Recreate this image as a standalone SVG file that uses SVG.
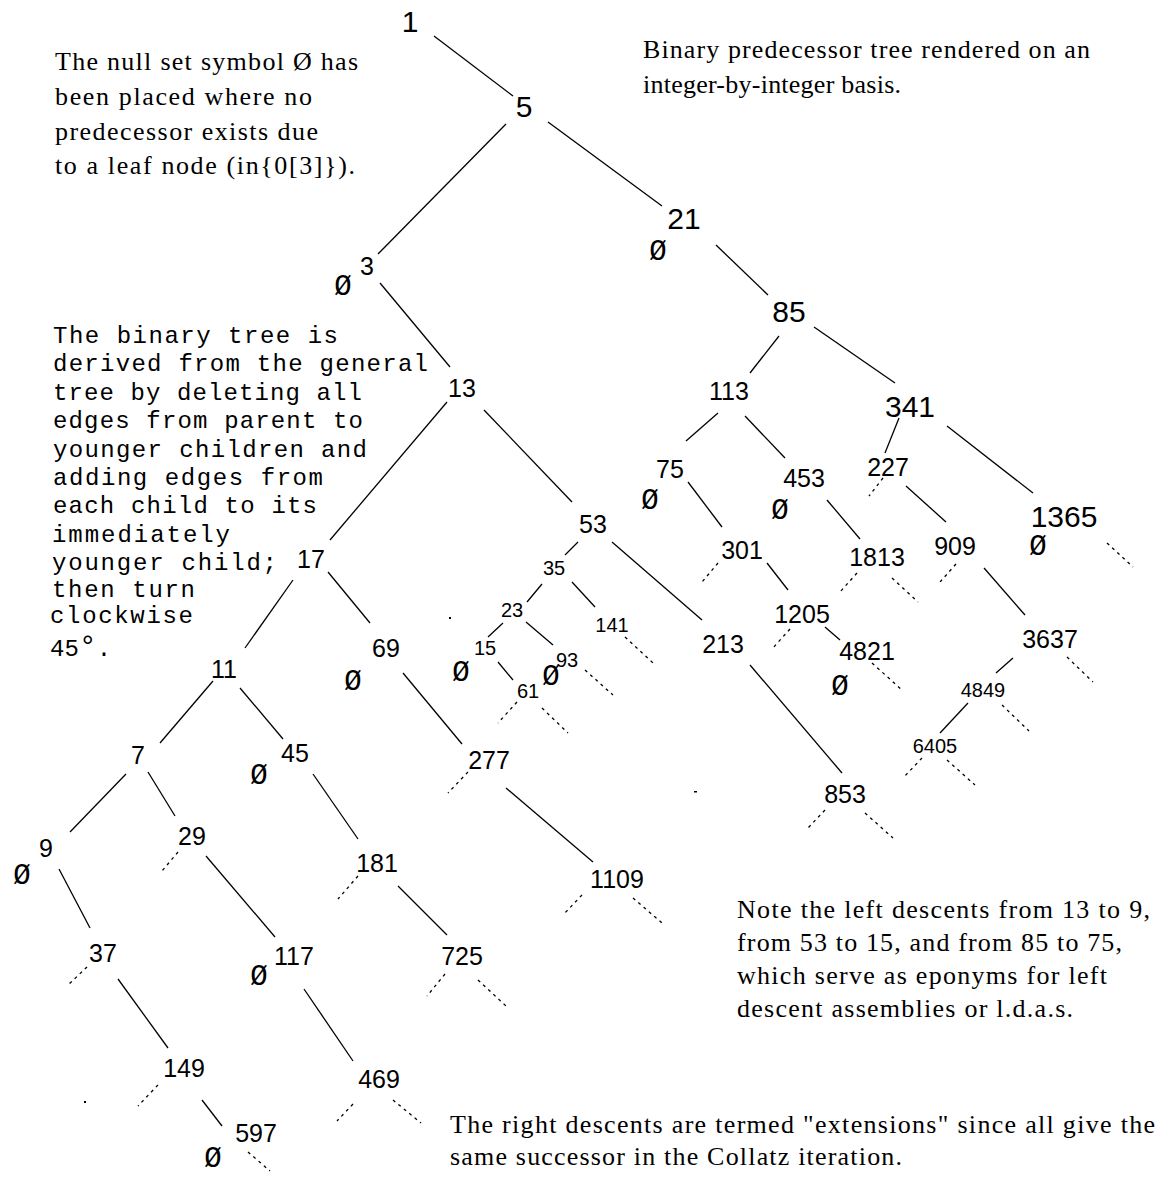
<svg xmlns="http://www.w3.org/2000/svg" width="1170" height="1177" viewBox="0 0 1170 1177">
<style>
.bg{fill:#ffffff}
.n text{fill:#000;text-anchor:middle;font-family:"Liberation Sans",Arial,sans-serif}
.lg{font-size:30px}
.md{font-size:25px}
.sm{font-size:20px}
.nul{font-family:"Liberation Mono","Courier New",monospace;font-size:29px;fill:#000;text-anchor:middle}
.e line{stroke:#000;stroke-width:1.3;fill:none}
.e line.d{stroke-dasharray:3 4}
.serif{font-family:"Liberation Serif","Times New Roman",serif;font-size:26px;fill:#000}
.mono{font-family:"Liberation Mono","Courier New",monospace;font-size:24px;fill:#000}
.dot{fill:#000}
</style>
<rect class="bg" x="0" y="0" width="1170" height="1177"/>

<g id="connectors" class="e">
<line x1="434" y1="36" x2="513" y2="96"/>
<line x1="548" y1="122" x2="662" y2="206"/>
<line x1="506" y1="124" x2="378" y2="254"/>
<line x1="716" y1="245" x2="768" y2="295"/>
<line x1="380" y1="283" x2="450" y2="367"/>
<line x1="779" y1="336" x2="750" y2="373"/>
<line x1="814" y1="327" x2="895" y2="383"/>
<line x1="447" y1="402" x2="330" y2="540"/>
<line x1="484" y1="410" x2="572" y2="502"/>
<line x1="718" y1="413" x2="686" y2="441"/>
<line x1="745" y1="416" x2="785" y2="458"/>
<line x1="899" y1="418" x2="885" y2="453"/>
<line x1="947" y1="426" x2="1033" y2="493"/>
<line x1="688" y1="482" x2="722" y2="527"/>
<line x1="827" y1="500" x2="860" y2="539"/>
<line x1="906" y1="486" x2="946" y2="522"/>
<line x1="578" y1="542" x2="565" y2="555"/>
<line x1="612" y1="542" x2="702" y2="620"/>
<line x1="767" y1="563" x2="788" y2="590"/>
<line x1="984" y1="568" x2="1025" y2="615"/>
<line x1="293" y1="580" x2="245" y2="648"/>
<line x1="328" y1="572" x2="370" y2="623"/>
<line x1="542" y1="584" x2="527" y2="602"/>
<line x1="572" y1="582" x2="595" y2="607"/>
<line x1="503" y1="623" x2="488" y2="637"/>
<line x1="526" y1="622" x2="553" y2="645"/>
<line x1="498" y1="662" x2="513" y2="680"/>
<line x1="825" y1="627" x2="840" y2="640"/>
<line x1="750" y1="665" x2="842" y2="773"/>
<line x1="1013" y1="658" x2="996" y2="673"/>
<line x1="968" y1="703" x2="940" y2="733"/>
<line x1="213" y1="681" x2="160" y2="743"/>
<line x1="240" y1="688" x2="283" y2="739"/>
<line x1="403" y1="673" x2="462" y2="744"/>
<line x1="126" y1="774" x2="70" y2="832"/>
<line x1="148" y1="772" x2="175" y2="816"/>
<line x1="313" y1="774" x2="358" y2="839"/>
<line x1="59" y1="869" x2="90" y2="928"/>
<line x1="206" y1="856" x2="275" y2="937"/>
<line x1="398" y1="886" x2="447" y2="935"/>
<line x1="506" y1="788" x2="593" y2="862"/>
<line x1="118" y1="979" x2="168" y2="1048"/>
<line x1="304" y1="989" x2="353" y2="1061"/>
<line x1="202" y1="1100" x2="222" y2="1126"/>

<line class="d" x1="883" y1="478" x2="869" y2="496"/>
<line class="d" x1="718" y1="563" x2="702" y2="582"/>
<line class="d" x1="857" y1="573" x2="840" y2="592"/>
<line class="d" x1="892" y1="578" x2="918" y2="602"/>
<line class="d" x1="956" y1="564" x2="940" y2="582"/>
<line class="d" x1="1107" y1="543" x2="1133" y2="567"/>
<line class="d" x1="790" y1="629" x2="772" y2="649"/>
<line class="d" x1="872" y1="663" x2="902" y2="690"/>
<line class="d" x1="1067" y1="657" x2="1093" y2="682"/>
<line class="d" x1="1002" y1="705" x2="1029" y2="731"/>
<line class="d" x1="922" y1="758" x2="903" y2="778"/>
<line class="d" x1="947" y1="760" x2="975" y2="785"/>
<line class="d" x1="825" y1="810" x2="808" y2="828"/>
<line class="d" x1="865" y1="813" x2="893" y2="838"/>
<line class="d" x1="625" y1="637" x2="653" y2="663"/>
<line class="d" x1="585" y1="670" x2="613" y2="695"/>
<line class="d" x1="517" y1="702" x2="498" y2="723"/>
<line class="d" x1="542" y1="708" x2="568" y2="733"/>
<line class="d" x1="468" y1="772" x2="448" y2="793"/>
<line class="d" x1="582" y1="895" x2="563" y2="915"/>
<line class="d" x1="633" y1="898" x2="662" y2="923"/>
<line class="d" x1="445" y1="974" x2="427" y2="996"/>
<line class="d" x1="478" y1="980" x2="507" y2="1007"/>
<line class="d" x1="353" y1="1104" x2="337" y2="1121"/>
<line class="d" x1="393" y1="1100" x2="421" y2="1123"/>
<line class="d" x1="178" y1="852" x2="162" y2="871"/>
<line class="d" x1="358" y1="876" x2="338" y2="899"/>
<line class="d" x1="87" y1="967" x2="68" y2="985"/>
<line class="d" x1="158" y1="1085" x2="138" y2="1106"/>
<line class="d" x1="248" y1="1152" x2="270" y2="1171"/>
</g>

<g id="nodes" class="n">
<g id="n1"><text class="lg" x="410" y="32">1</text></g>
<g id="n5"><text class="lg" x="524" y="117">5</text></g>
<g id="n21"><text class="lg" x="684" y="229">21</text></g>
<g id="n3"><text class="md" x="367" y="275">3</text></g>
<g id="n85"><text class="lg" x="789" y="322">85</text></g>
<g id="n113"><text class="md" x="729" y="400">113</text></g>
<g id="n341"><text class="lg" x="910" y="417">341</text></g>
<g id="n13"><text class="md" x="462" y="397">13</text></g>
<g id="n75"><text class="md" x="670" y="478">75</text></g>
<g id="n453"><text class="md" x="804" y="487">453</text></g>
<g id="n227"><text class="md" x="888" y="476">227</text></g>
<g id="n1365"><text class="lg" x="1064" y="527">1365</text></g>
<g id="n53"><text class="md" x="593" y="533">53</text></g>
<g id="n301"><text class="md" x="742" y="559">301</text></g>
<g id="n1813"><text class="md" x="877" y="566">1813</text></g>
<g id="n909"><text class="md" x="955" y="555">909</text></g>
<g id="n17"><text class="md" x="311" y="568">17</text></g>
<g id="n35"><text class="sm" x="554" y="575">35</text></g>
<g id="n23"><text class="sm" x="512" y="617">23</text></g>
<g id="n141"><text class="sm" x="612" y="632">141</text></g>
<g id="n1205"><text class="md" x="802" y="623">1205</text></g>
<g id="n15"><text class="sm" x="485" y="655">15</text></g>
<g id="n93"><text class="sm" x="567" y="667">93</text></g>
<g id="n69"><text class="md" x="386" y="657">69</text></g>
<g id="n11"><text class="md" x="224" y="678">11</text></g>
<g id="n213"><text class="md" x="723" y="653">213</text></g>
<g id="n4821"><text class="md" x="867" y="660">4821</text></g>
<g id="n3637"><text class="md" x="1050" y="648">3637</text></g>
<g id="n61"><text class="sm" x="528" y="698">61</text></g>
<g id="n4849"><text class="sm" x="983" y="697">4849</text></g>
<g id="n6405"><text class="sm" x="935" y="753">6405</text></g>
<g id="n7"><text class="md" x="138" y="764">7</text></g>
<g id="n45"><text class="md" x="295" y="762">45</text></g>
<g id="n277"><text class="md" x="489" y="769">277</text></g>
<g id="n853"><text class="md" x="845" y="803">853</text></g>
<g id="n9"><text class="md" x="46" y="857">9</text></g>
<g id="n29"><text class="md" x="192" y="845">29</text></g>
<g id="n181"><text class="md" x="377" y="872">181</text></g>
<g id="n1109"><text class="md" x="617" y="888">1109</text></g>
<g id="n37"><text class="md" x="103" y="962">37</text></g>
<g id="n117"><text class="md" x="294" y="965">117</text></g>
<g id="n725"><text class="md" x="462" y="965">725</text></g>
<g id="n149"><text class="md" x="184" y="1077">149</text></g>
<g id="n469"><text class="md" x="379" y="1088">469</text></g>
<g id="n597"><text class="md" x="256" y="1142">597</text></g>
</g>

<g id="nulls">
<text class="nul" x="343" y="295">Ø</text>
<text class="nul" x="658" y="260">Ø</text>
<text class="nul" x="650" y="509">Ø</text>
<text class="nul" x="780" y="519">Ø</text>
<text class="nul" x="1038" y="555">Ø</text>
<text class="nul" x="840" y="695">Ø</text>
<text class="nul" x="461" y="681">Ø</text>
<text class="nul" x="551" y="685">Ø</text>
<text class="nul" x="353" y="690">Ø</text>
<text class="nul" x="259" y="784">Ø</text>
<text class="nul" x="22" y="884">Ø</text>
<text class="nul" x="259" y="985">Ø</text>
<text class="nul" x="213" y="1167">Ø</text>
</g>

<g id="notes">
<text class="serif" x="55" y="70" textLength="303" lengthAdjust="spacing">The null set symbol Ø has</text>
<text class="serif" x="55" y="105" textLength="257" lengthAdjust="spacing">been placed where no</text>
<text class="serif" x="55" y="140" textLength="263" lengthAdjust="spacing">predecessor exists due</text>
<text class="serif" x="55" y="174" textLength="300" lengthAdjust="spacing">to a leaf node (in{0[3]}).</text>

<text class="serif" x="643" y="58" textLength="447" lengthAdjust="spacing">Binary predecessor tree rendered on an</text>
<text class="serif" x="643" y="93" textLength="258" lengthAdjust="spacing">integer-by-integer basis.</text>

<text class="mono" x="53" y="343" textLength="285" lengthAdjust="spacing">The binary tree is</text>
<text class="mono" x="53" y="371" textLength="375" lengthAdjust="spacing">derived from the general</text>
<text class="mono" x="53" y="400" textLength="309" lengthAdjust="spacing">tree by deleting all</text>
<text class="mono" x="53" y="428" textLength="310" lengthAdjust="spacing">edges from parent to</text>
<text class="mono" x="53" y="457" textLength="314" lengthAdjust="spacing">younger children and</text>
<text class="mono" x="53" y="485" textLength="270" lengthAdjust="spacing">adding edges from</text>
<text class="mono" x="53" y="513" textLength="264" lengthAdjust="spacing">each child to its</text>
<text class="mono" x="52" y="542" textLength="178" lengthAdjust="spacing">immediately</text>
<text class="mono" x="52" y="570" textLength="225" lengthAdjust="spacing">younger child;</text>
<text class="mono" x="52" y="597" textLength="143" lengthAdjust="spacing">then turn</text>
<text class="mono" x="50" y="623" textLength="143" lengthAdjust="spacing">clockwise</text>
<text class="mono" x="50" y="656">45<tspan font-size="30">°</tspan>.</text>

<text class="serif" x="737" y="918" textLength="413" lengthAdjust="spacing">Note the left descents from 13 to 9,</text>
<text class="serif" x="737" y="951" textLength="385" lengthAdjust="spacing">from 53 to 15, and from 85 to 75,</text>
<text class="serif" x="737" y="984" textLength="370" lengthAdjust="spacing">which serve as eponyms for left</text>
<text class="serif" x="737" y="1017" textLength="336" lengthAdjust="spacing">descent assemblies or l.d.a.s.</text>

<text class="serif" x="450" y="1133" textLength="705" lengthAdjust="spacing">The right descents are termed "extensions" since all give the</text>
<text class="serif" x="450" y="1165" textLength="452" lengthAdjust="spacing">same successor in the Collatz iteration.</text>
</g>

<g id="specks">
<rect class="dot" x="449" y="617" width="2" height="2"/>
<rect class="dot" x="694" y="791" width="3" height="1.5"/>
<rect class="dot" x="84" y="1101" width="2" height="2"/>
</g>
</svg>
